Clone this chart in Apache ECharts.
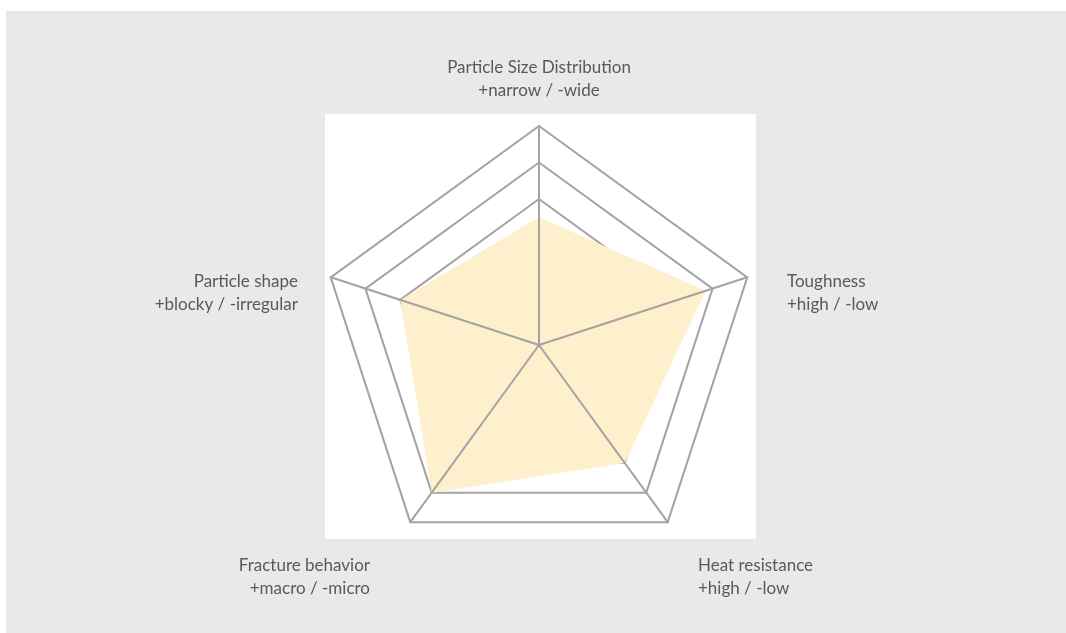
<!DOCTYPE html>
<html>
<head>
<meta charset="utf-8">
<script src="https://cdn.jsdelivr.net/npm/echarts@6/dist/echarts.min.js"></script>
<style>
  html, body { margin: 0; padding: 0; background: #fff; }
  #chart { width: 1066px; height: 633px; }
</style>
</head>
<body>
<div id="chart"></div>
<script>
// indicators, counterclockwise from the top (echarts radar order)
const indicatorNames = ['Particle Size Distribution', 'Particle shape', 'Fracture behavior', 'Heat resistance', 'Toughness']
const indicatorHints = ['+narrow / -wide', '+blocky / -irregular', '+macro / -micro', '+high / -low', '+high / -low']
const scores = [3.5, 4, 5, 4, 4.8]
const axisMax = 6

// label placement around the radar (x, y of first line, alignment)
const labelPos = [
  { x: 539, y: 68, align: 'center' },
  { x: 298, y: 282, align: 'right' },
  { x: 370, y: 566, align: 'right' },
  { x: 698, y: 566, align: 'left' },
  { x: 787, y: 282, align: 'left' }
]

const chart = echarts.init(document.getElementById('chart'))

const lineGray = '#a3a3a3'
const indicators = indicatorNames.map(n => ({ name: n, min: 0, max: axisMax }))

const labelTexts = indicatorNames.map((name, i) => ({
  type: 'text',
  x: labelPos[i].x,
  y: labelPos[i].y + 11.5, // block middle
  z: 10,
  style: {
    text: name + '\n' + indicatorHints[i],
    fill: '#595959',
    font: '17px Lato',
    lineHeight: 23,
    align: labelPos[i].align,
    verticalAlign: 'middle'
  }
}))

const radarBase = {
  center: [539, 345],
  radius: 219,
  splitNumber: axisMax,
  indicator: indicators,
  axisName: { show: false },
  splitArea: { show: false }
}

chart.setOption({
  animation: false,
  graphic: [
    { type: 'rect', shape: { x: 6, y: 11, width: 1060, height: 622 }, style: { fill: '#e9e9e9' }, z: -10 },
    { type: 'rect', shape: { x: 325, y: 114, width: 431, height: 425 }, style: { fill: '#ffffff' }, z: -9 },
    ...labelTexts
  ],
  radar: [
    // rings, under the filled area
    Object.assign({}, radarBase, {
      z: 0,
      axisLine: { show: false },
      splitLine: { lineStyle: { color: lineGray, width: 2 } }
    }),
    // spokes, over the filled area
    Object.assign({}, radarBase, {
      z: 5,
      axisLine: { lineStyle: { color: lineGray, width: 2 } },
      splitLine: { show: false }
    })
  ],
  series: [
    {
      type: 'radar',
      radarIndex: 0,
      z: 2,
      symbol: 'none',
      lineStyle: { width: 0 },
      areaStyle: { color: '#fef0cd', opacity: 1 },
      data: [{ value: scores }]
    }
  ]
})
</script>
</body>
</html>
